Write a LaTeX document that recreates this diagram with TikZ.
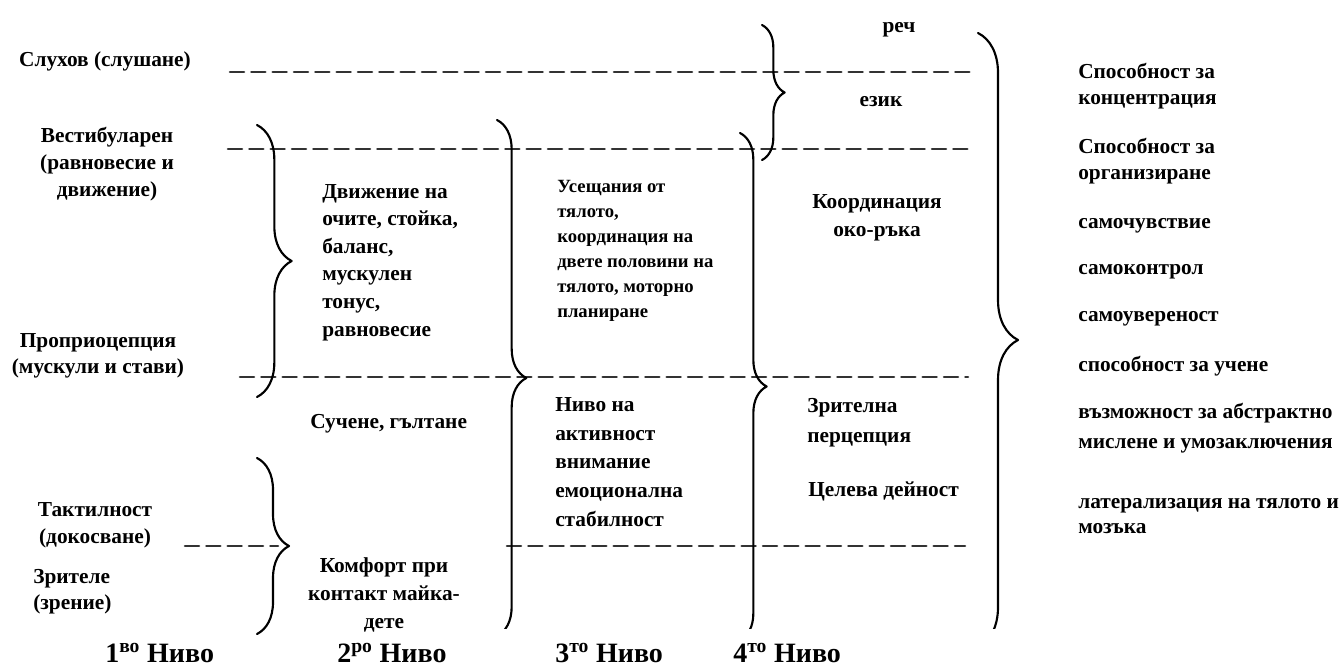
\documentclass[tikz,border=0pt]{standalone}
\usepackage{fontspec}
\setmainfont{Liberation Serif}
\usetikzlibrary{decorations.pathreplacing}

\begin{document}
\begin{tikzpicture}[x=0.75pt,y=-0.75pt,line cap=round,line join=round,
  every node/.style={inner sep=0pt},
  txt/.style={font=\bfseries\fontsize{16}{#1}\selectfont},
  txt/.default=20,
  smalltxt/.style={font=\bfseries\fontsize{14}{18.75}\selectfont},
  sidetxt/.style={font=\bfseries\fontsize{16}{#1}\selectfont, anchor=base west, align=left},
  sidetxt/.default=20,
  leveltxt/.style={font=\bfseries\fontsize{21}{24}\selectfont, anchor=west},
  rowline/.style={line width=1.9pt, dash pattern=on 10.5pt off 5.5pt, black!80},
  bracket/.style={line width=1.6pt, decorate, decoration={brace, amplitude=#1}}]
  \useasboundingbox (0,0) rectangle (1341,668);
  % ---- dashed row lines ----------------------------------------------------
  \draw[rowline] (230,72) -- (972,72);
  \draw[rowline] (228,149) -- (972,149);
  \draw[rowline] (240,377) -- (968,377);
  \draw[rowline] (185,546) -- (278,546);
  \draw[rowline] (507,546) -- (965,546);
  % ---- braces --------------------------------------------------------------
  \draw[bracket=26] (257,125) -- (257,397);
  \draw[bracket=24] (257,458) -- (257,634);
  \draw[bracket=17] (762,25) -- (762,160);
  \begin{scope}
    \clip (0,0) rectangle (1341,628);
    \draw[bracket=22] (497,120) -- (497,636);
    \draw[bracket=20] (740,133) -- (740,640);
    \draw[bracket=30] (978,33) -- (978,647);
  \end{scope}
  % ---- 1st level: senses ---------------------------------------------------
  \node[txt, anchor=base] (sluh) at (105,66) {Слухов (слушане)};
  \node[txt=19.9, align=center, anchor=base] (vest) at (107,196)
    {Вестибуларен\\(равновесие и\\движение)};
  \node[txt=18.8, align=center, anchor=base] (prop) at (98,373)
    {Проприоцепция\\(мускули и стави)};
  \node[txt=20.2, align=center, anchor=base] (takt) at (95,543)
    {Тактилност\\(докосване)};
  \node[txt=19.5, align=left, anchor=base west] (zrit) at (33,609)
    {Зрителе\\(зрение)};
  % ---- 2nd level -----------------------------------------------------------
  \node[txt=20.7, align=left, anchor=base west] (dvij) at (322,336)
    {Движение на\\очите, стойка,\\баланс,\\мускулен\\тонус,\\равновесие};
  \node[txt, anchor=base west] (such) at (310,428) {Сучене, гълтане};
  \node[txt=21, align=center, anchor=base] (komf) at (384,628)
    {Комфорт при\\контакт майка-\\дете};
  % ---- 3rd level -----------------------------------------------------------
  \node[smalltxt, align=left, anchor=base west] (useshtane) at (557,317)
    {Усещания от\\тялото,\\координация на\\двете половини на\\тялото, моторно\\планиране};
  \node[txt=21.4, align=left, anchor=base west] (aktiv) at (555,526)
    {Ниво на\\активност\\внимание\\емоционална\\стабилност};
  % ---- 4th level -----------------------------------------------------------
  \node[txt, anchor=base] (rech) at (899,32) {реч};
  \node[txt, anchor=base] (ezik) at (881,106) {език};
  \node[txt=20.3, align=center, anchor=base] (koord) at (877,236)
    {Координация\\око-ръка};
  \node[txt=22.5, align=left, anchor=base west] (percep) at (807,442)
    {Зрителна\\перцепция};
  \node[txt, anchor=base west] (tsel) at (808,496) {Целева дейност};
  % ---- outcomes ------------------------------------------------------------
  \node[sidetxt=19.5] (konc) at (1078,104) {Способност за\\концентрация};
  \node[sidetxt=19.5] (organ) at (1078,179) {Способност за\\организиране};
  \node[sidetxt] (samochuv) at (1078,228) {самочувствие};
  \node[sidetxt] (samokontr) at (1078,274) {самоконтрол};
  \node[sidetxt] (samouver) at (1078,321) {самоувереност};
  \node[sidetxt] (uchene) at (1078,371) {способност за учене};
  \node[sidetxt=22] (abstr) at (1078,448) {възможност за абстрактно\\мислене и умозаключения};
  \node[sidetxt=18.5] (later) at (1078,533) {латерализация на тялото и\\мозъка};
  % ---- level captions ------------------------------------------------------
  \node[leveltxt] (lev1) at (105,653) {1\textsuperscript{во} Ниво};
  \node[leveltxt] (lev2) at (337,653) {2\textsuperscript{ро} Ниво};
  \node[leveltxt] (lev3) at (555,653) {3\textsuperscript{то} Ниво};
  \node[leveltxt] (lev4) at (733,653) {4\textsuperscript{то} Ниво};
\end{tikzpicture}
\end{document}
